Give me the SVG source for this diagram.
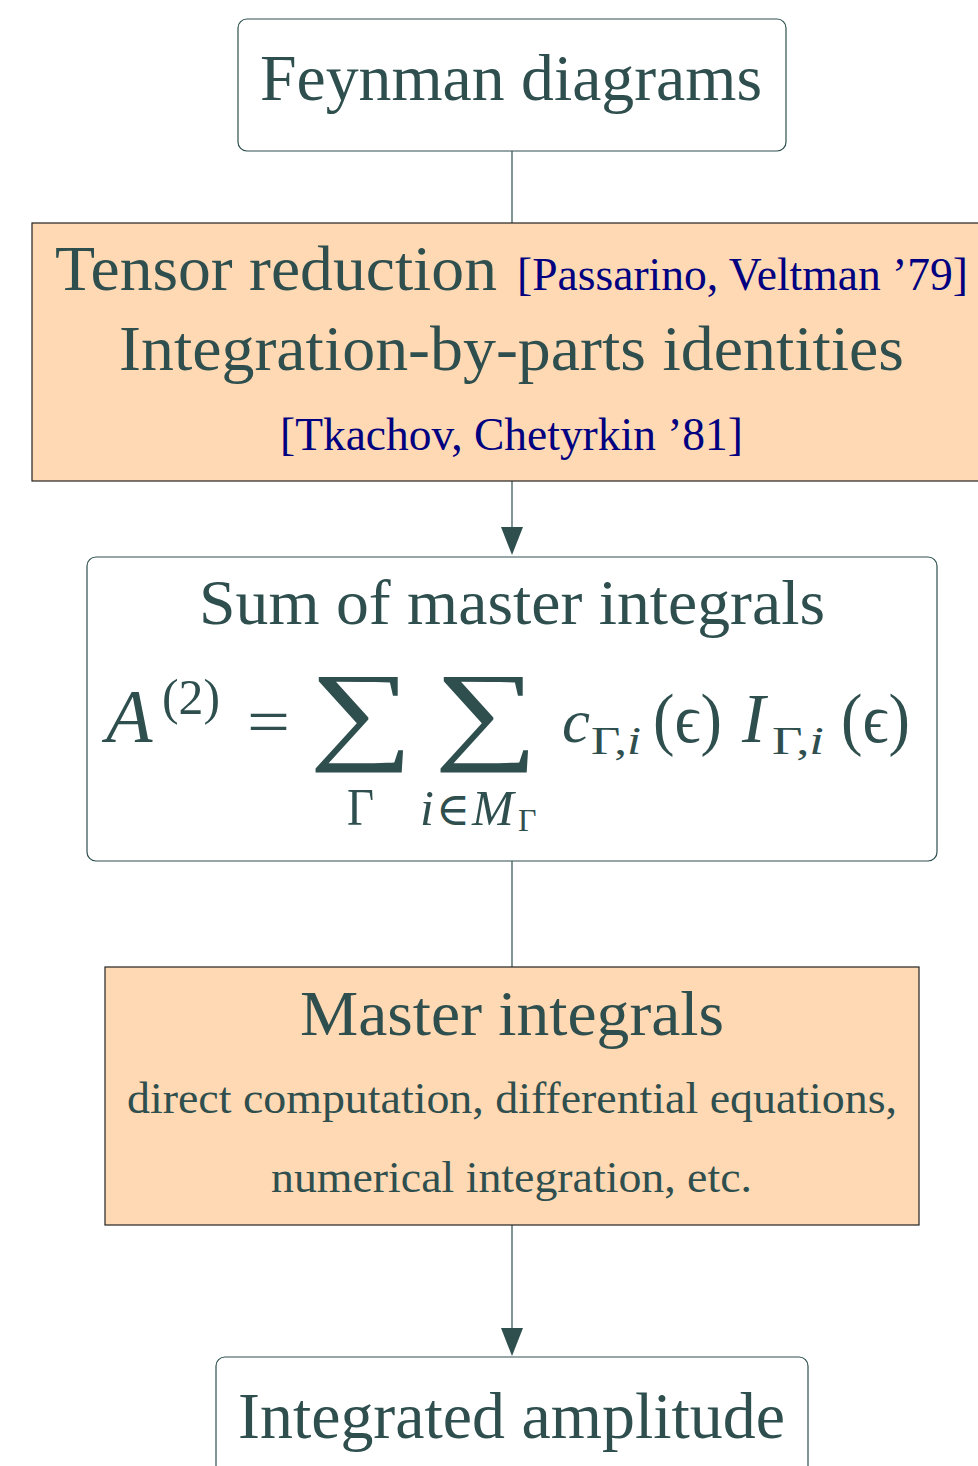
<svg xmlns="http://www.w3.org/2000/svg" width="978" height="1466" viewBox="0 0 978 1466">
<defs>
<style>
.box{fill:#ffffff;stroke:#2f4f4f;stroke-width:1.2}
.pbox{fill:#ffd9b3;stroke:#222222;stroke-width:1.2}
.t{font-family:"Liberation Serif","DejaVu Serif",serif;fill:#2f4f4f}
.ref{font-family:"Liberation Serif","DejaVu Serif",serif;fill:#000080}
.it{font-style:italic}
.conn{stroke:#2f4f4f;stroke-width:1.2;fill:none}
.head{fill:#2f4f4f}
</style>
</defs>
<g id="connectors">
<line class="conn" x1="512" y1="151" x2="512" y2="223"/>
<line class="conn" x1="512" y1="481" x2="512" y2="527"/>
<path class="head" d="M501,527 L523,527 L512,555 Z"/>
<line class="conn" x1="512" y1="861" x2="512" y2="967"/>
<line class="conn" x1="512" y1="1225" x2="512" y2="1328"/>
<path class="head" d="M501,1328 L523,1328 L512,1356 Z"/>
</g>
<g id="feynman">
<rect class="box" x="238" y="19" width="548" height="132" rx="9"/>
<text class="t" x="260" y="100" font-size="66" textLength="502" lengthAdjust="spacingAndGlyphs">Feynman diagrams</text>
</g>
<g id="reduction">
<rect class="pbox" x="32" y="223" width="950" height="258"/>
<text class="t" x="55" y="290" font-size="64" textLength="442" lengthAdjust="spacingAndGlyphs">Tensor reduction</text>
<text class="ref" x="517" y="290" font-size="46" textLength="451" lengthAdjust="spacingAndGlyphs">[Passarino, Veltman ’79]</text>
<text class="t" x="119" y="370" font-size="64" textLength="785" lengthAdjust="spacingAndGlyphs">Integration-by-parts identities</text>
<text class="ref" x="280" y="450" font-size="46" textLength="463" lengthAdjust="spacingAndGlyphs">[Tkachov, Chetyrkin ’81]</text>
</g>
<g id="sum">
<rect class="box" x="87" y="557" width="850" height="304" rx="9"/>
<text class="t" x="199" y="624" font-size="64" textLength="626" lengthAdjust="spacingAndGlyphs">Sum of master integrals</text>
<text class="t it" x="106" y="742" font-size="76">A</text>
<text class="t" x="162" y="714" font-size="50" textLength="58" lengthAdjust="spacingAndGlyphs">(2)</text>
<text class="t" x="247" y="744" font-size="66" textLength="43" lengthAdjust="spacingAndGlyphs">=</text>
<text class="t" transform="translate(309,749) scale(1.33,1)" font-size="110">∑</text>
<text class="t" transform="translate(434,749) scale(1.33,1)" font-size="110">∑</text>
<text class="t" x="347" y="825" font-size="52" textLength="27" lengthAdjust="spacingAndGlyphs">Γ</text>
<text class="t" y="825" font-size="50"><tspan class="it" x="420">i</tspan><tspan x="436" font-size="46">∈</tspan><tspan class="it" x="472">M</tspan><tspan x="518" y="831" font-size="32">Γ</tspan></text>
<text class="t it" x="562" y="742" font-size="62" textLength="28" lengthAdjust="spacingAndGlyphs">c</text>
<text class="t" x="591" y="754" font-size="40" textLength="50" lengthAdjust="spacingAndGlyphs">Γ,<tspan class="it">i</tspan></text>
<text class="t" x="653" y="742" font-size="70" textLength="69" lengthAdjust="spacingAndGlyphs">(ϵ)</text>
<text class="t it" x="742" y="742" font-size="70">I</text>
<text class="t" x="772" y="754" font-size="40" textLength="52" lengthAdjust="spacingAndGlyphs">Γ,<tspan class="it">i</tspan></text>
<text class="t" x="841" y="742" font-size="70" textLength="69" lengthAdjust="spacingAndGlyphs">(ϵ)</text>
</g>
<g id="master">
<rect class="pbox" x="105" y="967" width="814" height="258"/>
<text class="t" x="300" y="1035" font-size="64" textLength="424" lengthAdjust="spacingAndGlyphs">Master integrals</text>
<text class="t" x="127" y="1113" font-size="44" textLength="770" lengthAdjust="spacingAndGlyphs">direct computation, differential equations,</text>
<text class="t" x="271" y="1192" font-size="44" textLength="481" lengthAdjust="spacingAndGlyphs">numerical integration, etc.</text>
</g>
<g id="amplitude">
<rect class="box" x="216" y="1357" width="592" height="140" rx="9"/>
<text class="t" x="238" y="1438" font-size="66" textLength="547" lengthAdjust="spacingAndGlyphs">Integrated amplitude</text>
</g>
</svg>
